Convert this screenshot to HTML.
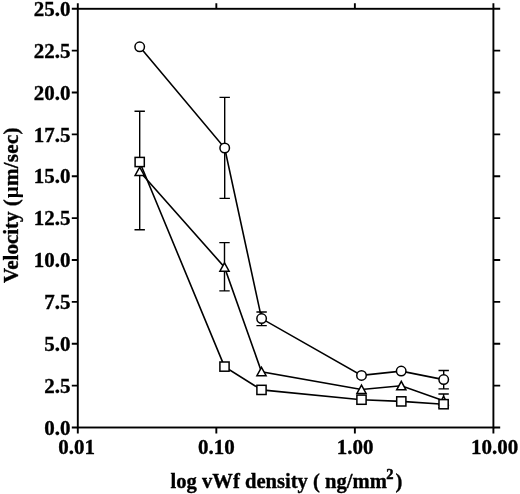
<!DOCTYPE html>
<html><head><meta charset="utf-8"><style>
html,body{margin:0;padding:0;background:#fff;}
body{width:520px;height:494px;overflow:hidden;}
svg{display:block;}
text{font-family:"Liberation Serif","Times New Roman",serif;font-weight:bold;fill:#000;stroke:#000;stroke-width:0.35px;}
</style></head><body>
<svg width="520" height="494" viewBox="0 0 520 494">

<rect x="77.8" y="8.8" width="415.60" height="418.70" fill="none" stroke="#000" stroke-width="1.9"/>
<path d="M71.80 427.50H77.80M493.40 427.50H500.20M71.80 385.63H77.80M493.40 385.63H500.20M71.80 343.76H77.80M493.40 343.76H500.20M71.80 301.89H77.80M493.40 301.89H500.20M71.80 260.02H77.80M493.40 260.02H500.20M71.80 218.15H77.80M493.40 218.15H500.20M71.80 176.28H77.80M493.40 176.28H500.20M71.80 134.41H77.80M493.40 134.41H500.20M71.80 92.54H77.80M493.40 92.54H500.20M71.80 50.67H77.80M493.40 50.67H500.20M71.80 8.80H77.80M493.40 8.80H500.20M77.80 3.30V8.80M77.80 427.50V433.50M216.33 3.30V8.80M216.33 427.50V433.50M354.87 3.30V8.80M354.87 427.50V433.50M493.40 3.30V8.80M493.40 427.50V433.50" fill="none" stroke="#000" stroke-width="1.9"/>
<text x="70.6" y="434.70" font-size="21" text-anchor="end">0.0</text>
<text x="70.6" y="392.83" font-size="21" text-anchor="end">2.5</text>
<text x="70.6" y="350.96" font-size="21" text-anchor="end">5.0</text>
<text x="70.6" y="309.09" font-size="21" text-anchor="end">7.5</text>
<text x="70.6" y="267.22" font-size="21" text-anchor="end">10.0</text>
<text x="70.6" y="225.35" font-size="21" text-anchor="end">12.5</text>
<text x="70.6" y="183.48" font-size="21" text-anchor="end">15.0</text>
<text x="70.6" y="141.61" font-size="21" text-anchor="end">17.5</text>
<text x="70.6" y="99.74" font-size="21" text-anchor="end">20.0</text>
<text x="70.6" y="57.87" font-size="21" text-anchor="end">22.5</text>
<text x="70.6" y="16.00" font-size="21" text-anchor="end">25.0</text>
<text x="76.60" y="453.6" font-size="21" text-anchor="middle">0.01</text>
<text x="216.33" y="453.6" font-size="21" text-anchor="middle">0.10</text>
<text x="355.17" y="453.6" font-size="21" text-anchor="middle">1.00</text>
<text x="494.60" y="453.6" font-size="21" text-anchor="middle">10.00</text>
<text x="170.6" y="488" font-size="20.6">log vWf density ( ng/mm<tspan font-size="14.5" dy="-9.5" dx="-0.5" stroke-width="0.5">2</tspan><tspan dy="9.5" dx="1.8">)</tspan></text>
<text transform="translate(18,283) rotate(-90)" font-size="21">Velocity <tspan letter-spacing="0.3">(<tspan stroke-width="0" dx="0.6">μ</tspan>m/sec)</tspan></text>
<polyline points="139.7,46.8 224.7,148.0 261.6,318.6 361.5,375.4 401.2,371.1 443.7,379.6" fill="none" stroke="#000" stroke-width="1.6"/>
<polyline points="139.7,171.5 224.5,267.2 261.5,371.7 361.5,389.5 401.3,385.8 443.6,400.8" fill="none" stroke="#000" stroke-width="1.6"/>
<polyline points="139.7,162.0 224.5,366.6 261.5,389.9 361.5,399.7 401.3,401.4 443.6,404.2" fill="none" stroke="#000" stroke-width="1.6"/>
<path d="M224.7 97.4V198.4M219.50 97.4H229.90M219.50 198.4H229.90M261.6 312.0V325.6M256.40 312.0H266.80M256.40 325.6H266.80M443.7 370.5V388.9M438.50 370.5H448.90M438.50 388.9H448.90M139.7 111.2V229.8M134.50 111.2H144.90M134.50 229.8H144.90M224.5 242.6V290.9M219.30 242.6H229.70M219.30 290.9H229.70M443.6 394.0V407.6M438.40 394.0H448.80M438.40 407.6H448.80" fill="none" stroke="#000" stroke-width="1.4"/>
<circle cx="139.7" cy="46.8" r="4.75" fill="#fff" stroke="#000" stroke-width="1.5"/>
<circle cx="224.7" cy="148.0" r="4.75" fill="#fff" stroke="#000" stroke-width="1.5"/>
<circle cx="261.6" cy="318.6" r="4.75" fill="#fff" stroke="#000" stroke-width="1.5"/>
<circle cx="361.5" cy="375.4" r="4.75" fill="#fff" stroke="#000" stroke-width="1.5"/>
<circle cx="401.2" cy="371.1" r="4.75" fill="#fff" stroke="#000" stroke-width="1.5"/>
<circle cx="443.7" cy="379.6" r="4.75" fill="#fff" stroke="#000" stroke-width="1.5"/>
<path d="M139.7 167.10L144.30 175.50H135.10Z" fill="#fff" stroke="#000" stroke-width="1.5" stroke-linejoin="miter"/>
<path d="M224.5 262.80L229.10 271.20H219.90Z" fill="#fff" stroke="#000" stroke-width="1.5" stroke-linejoin="miter"/>
<path d="M261.5 367.30L266.10 375.70H256.90Z" fill="#fff" stroke="#000" stroke-width="1.5" stroke-linejoin="miter"/>
<path d="M361.5 385.10L366.10 393.50H356.90Z" fill="#fff" stroke="#000" stroke-width="1.5" stroke-linejoin="miter"/>
<path d="M401.3 381.40L405.90 389.80H396.70Z" fill="#fff" stroke="#000" stroke-width="1.5" stroke-linejoin="miter"/>
<path d="M443.6 396.40L448.20 404.80H439.00Z" fill="#fff" stroke="#000" stroke-width="1.5" stroke-linejoin="miter"/>
<rect x="135.10" y="157.40" width="9.2" height="9.2" fill="#fff" stroke="#000" stroke-width="1.5"/>
<rect x="219.90" y="362.00" width="9.2" height="9.2" fill="#fff" stroke="#000" stroke-width="1.5"/>
<rect x="256.90" y="385.30" width="9.2" height="9.2" fill="#fff" stroke="#000" stroke-width="1.5"/>
<rect x="356.90" y="395.10" width="9.2" height="9.2" fill="#fff" stroke="#000" stroke-width="1.5"/>
<rect x="396.70" y="396.80" width="9.2" height="9.2" fill="#fff" stroke="#000" stroke-width="1.5"/>
<rect x="439.00" y="399.60" width="9.2" height="9.2" fill="#fff" stroke="#000" stroke-width="1.5"/>
</svg>
</body></html>
